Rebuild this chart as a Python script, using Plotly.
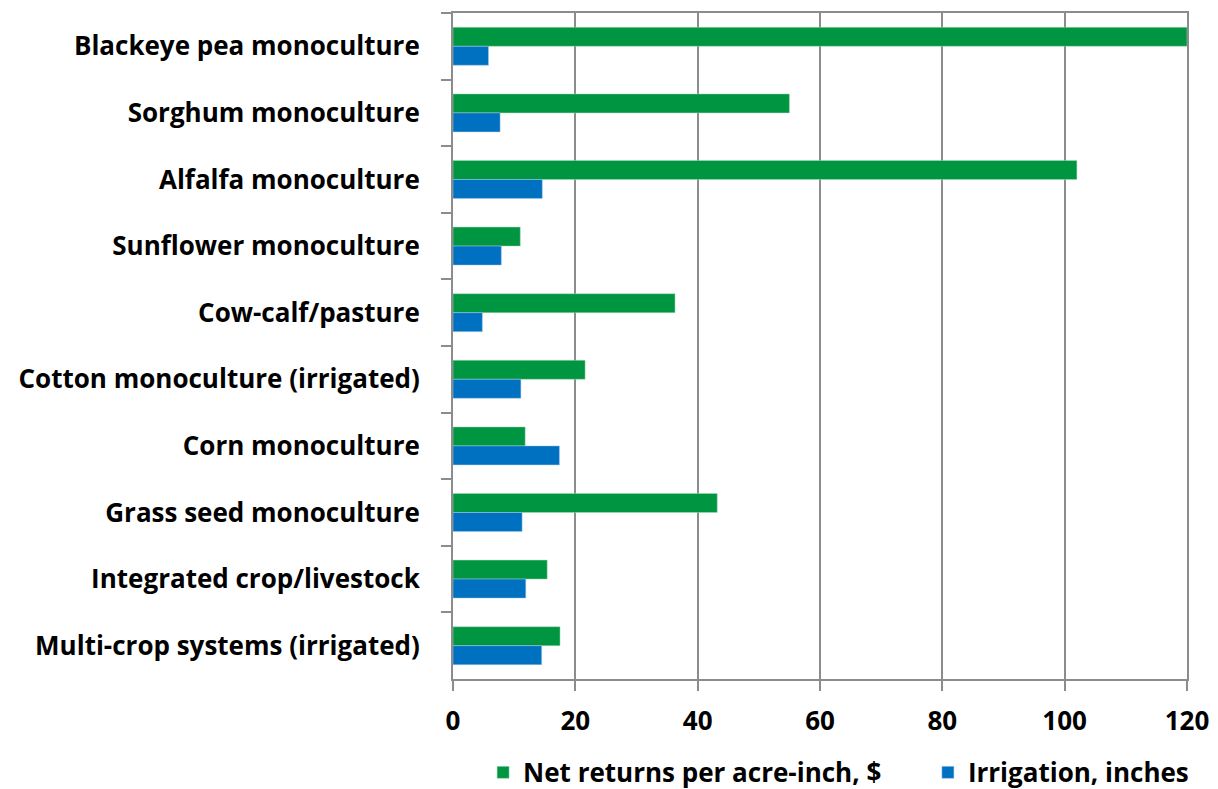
import plotly.graph_objects as go

categories = [
    "Blackeye pea monoculture",
    "Sorghum monoculture",
    "Alfalfa monoculture",
    "Sunflower monoculture",
    "Cow-calf/pasture",
    "Cotton monoculture (irrigated)",
    "Corn monoculture",
    "Grass seed monoculture",
    "Integrated crop/livestock",
    "Multi-crop systems (irrigated)",
]
net_returns = [120, 55, 102, 11.0, 36.3, 21.6, 11.8, 43.2, 15.4, 17.5]
irrigation = [5.8, 7.7, 14.6, 7.9, 4.8, 11.1, 17.4, 11.3, 11.9, 14.5]

GREEN = "#009540"
BLUE = "#0070c0"
GRID = "#8c8c8c"
FONT = "Open Sans"
TXT = dict(family=FONT, size=26, color="black", weight="bold")

fig = go.Figure()
fig.add_trace(go.Bar(
    y=categories, x=net_returns, orientation="h",
    name="Net returns per acre-inch, $", legend="legend",
    marker=dict(color=GREEN, line=dict(color="#a8dcbc", width=0.5)),
))
fig.add_trace(go.Bar(
    y=categories, x=irrigation, orientation="h",
    name="Irrigation, inches", legend="legend2",
    marker=dict(color=BLUE, line=dict(color="#a6c8ea", width=0.5)),
))

leg = dict(orientation="h", y=-0.105, yanchor="top", xanchor="left",
           font=TXT, itemwidth=30, bgcolor="rgba(0,0,0,0)")

# page body has an 8px margin, so the figure is sized to fit the window
fig.update_layout(
    width=1210, height=781,
    margin=dict(l=445, r=31, t=5, b=110, autoexpand=False),
    barmode="group", bargap=0.43, bargroupgap=0,
    plot_bgcolor="white", paper_bgcolor="white",
    font=TXT,
    showlegend=True,
    legend=dict(leg, x=0.041),
    legend2=dict(leg, x=0.647),
)
fig.update_xaxes(
    range=[0, 120], dtick=20, showgrid=True, gridcolor=GRID, gridwidth=2,
    showline=True, linecolor=GRID, linewidth=2, mirror=True,
    ticks="outside", ticklen=10, tickwidth=2, tickcolor=GRID,
    ticklabelstandoff=8, zeroline=False, automargin=False,
    tickfont=TXT,
)
fig.update_yaxes(
    autorange="reversed", tickson="boundaries", showgrid=False,
    showline=True, linecolor=GRID, linewidth=2, mirror=True,
    ticks="outside", ticklen=10, tickwidth=2, tickcolor=GRID,
    ticklabelstandoff=26, automargin=False,
    tickfont=TXT,
)

fig.write_html("out.html")
